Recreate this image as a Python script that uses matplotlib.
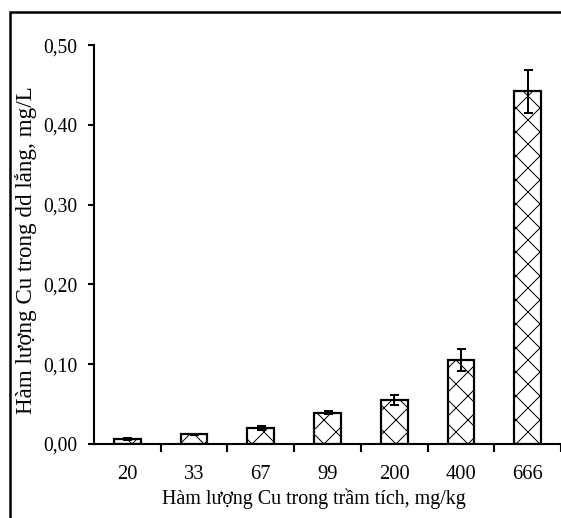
import matplotlib
matplotlib.use('Agg')
import matplotlib.pyplot as plt
from matplotlib.patches import Rectangle

# Cu content in sediment (mg/kg) vs Cu in the settled solution (mg/L)
levels = ['20', '33', '67', '99', '200', '400', '666']
cu_solution = [0.006, 0.012, 0.020, 0.039, 0.055, 0.105, 0.442]
cu_error = [0.001, 0.001, 0.003, 0.002, 0.006, 0.014, 0.027]
y_ticks = [0.0, 0.1, 0.2, 0.3, 0.4, 0.5]
y_tick_labels = ['0,00', '0,10', '0,20', '0,30', '0,40', '0,50']

plt.rcParams['font.family'] = ['Liberation Serif', 'DejaVu Serif']
plt.rcParams['hatch.linewidth'] = 1.0

# 72 dpi so that one point is one pixel (keeps the hatch cells wide)
DPI = 72
fig = plt.figure(figsize=(561 / DPI, 518 / DPI), dpi=DPI)
ax = fig.add_axes([0.1676, 0.1429, 0.8324, 0.7701])

x = range(len(levels))
ax.bar(x, cu_solution, width=0.4, color='white', edgecolor='black',
       linewidth=2.2, hatch='x', zorder=2)
ax.errorbar(x, cu_solution, yerr=cu_error, fmt='none', ecolor='black',
            elinewidth=2, capsize=4.5, capthick=2, zorder=3)

ax.set_xlim(-0.5, len(levels) - 0.5)
ax.set_ylim(0, 0.5)
ax.set_yticks(y_ticks)
ax.set_yticklabels(y_tick_labels)

# category labels centred, tick marks between the bars
ax.set_xticks([i + 0.5 for i in range(len(levels))])
ax.set_xticklabels([])
ax.set_xticks(list(x), minor=True)
ax.set_xticklabels(levels, minor=True)
ax.tick_params(axis='x', which='minor', length=0, pad=21, labelsize=20.5)
ax.tick_params(axis='x', which='major', direction='out', length=8, width=2.1)
ax.tick_params(axis='y', direction='out', length=6, width=2.1, labelsize=19.5, pad=11)

ax.spines['top'].set_visible(False)
ax.spines['right'].set_visible(False)
ax.spines['left'].set_linewidth(2.1)
ax.spines['bottom'].set_linewidth(2.1)

ax.set_xlabel('Hàm lượng Cu trong trầm tích, mg/kg', fontsize=20, labelpad=5)
ax.xaxis.label.set_x(0.471)
ax.set_ylabel('Hàm lượng Cu trong dd lắng, mg/L', fontsize=23, labelpad=6)
ax.yaxis.label.set_y(0.486)

# frame around the whole chart
fig.patches.append(Rectangle((0.0178, -0.1), 1.2, 1.077, transform=fig.transFigure,
                             fill=False, edgecolor='black', linewidth=2.5))

plt.savefig('out.png', dpi=DPI)
